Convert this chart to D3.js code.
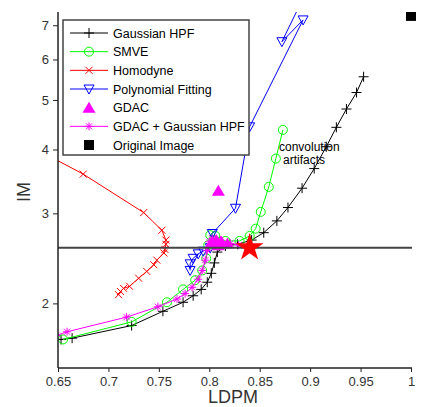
<!DOCTYPE html>
<html>
<head>
  <meta charset="utf-8">
  <style>
    body { margin: 0; background: #fff; }
    text { font-family: "Liberation Sans", Arial, sans-serif; }
  </style>
</head>
<body>
  <svg id="svg"></svg>

  <script src="https://d3js.org/d3.v7.min.js"></script>
  <script>
    // [LDPM, IM] pairs
    const gaussianHPF = [[0.653, 1.70], [0.664, 1.71], [0.723, 1.81], [0.754, 1.93], [0.774, 2.01], [0.784, 2.07],
      [0.792, 2.13], [0.798, 2.20], [0.802, 2.29], [0.805, 2.40], [0.808, 2.52], [0.816, 2.59], [0.828, 2.61],
      [0.842, 2.66], [0.854, 2.75], [0.867, 2.90], [0.878, 3.08], [0.892, 3.36], [0.904, 3.67], [0.916, 4.05],
      [0.926, 4.42], [0.936, 4.80], [0.946, 5.17], [0.953, 5.55]];
    const smve = [[0.655, 1.70], [0.723, 1.84], [0.758, 2.01], [0.774, 2.13], [0.786, 2.22], [0.793, 2.32],
      [0.797, 2.45], [0.799, 2.60], [0.801, 2.72], [0.806, 2.71], [0.816, 2.65], [0.830, 2.65], [0.840, 2.71],
      [0.846, 2.80], [0.851, 3.02], [0.859, 3.38], [0.866, 3.84], [0.873, 4.37]];
    const homodyne = [[0.630, 3.99], [0.675, 3.58], [0.735, 3.01], [0.753, 2.78], [0.757, 2.66], [0.757, 2.61],
      [0.756, 2.55], [0.755, 2.51], [0.748, 2.43], [0.745, 2.38], [0.738, 2.31], [0.730, 2.24], [0.721, 2.16],
      [0.715, 2.14], [0.712, 2.11], [0.710, 2.08]];
    const polyFit = [[0.781, 2.32], [0.781, 2.39], [0.784, 2.45], [0.789, 2.50], [0.794, 2.53], [0.801, 2.57],
      [0.803, 2.74], [0.826, 3.07], [0.840, 4.43], [0.893, 7.17], [0.872, 6.50], [0.897, 8.2]];
    const gdac = [[0.809, 3.32], [0.802, 2.63], [0.807, 2.66], [0.812, 2.64], [0.818, 2.62], [0.809, 2.60]];
    const gdacGaussian = [[0.648, 1.73], [0.659, 1.76], [0.718, 1.88], [0.749, 1.97], [0.768, 2.04], [0.776, 2.09],
      [0.783, 2.15], [0.789, 2.23], [0.793, 2.32], [0.796, 2.43], [0.798, 2.54], [0.800, 2.64], [0.803, 2.68],
      [0.811, 2.66], [0.821, 2.62], [0.829, 2.60]];
    const originalImage = [[1.0, 7.3]];
    const target = [[0.84, 2.57]];
    const refIM = 2.57;

    const xTicks = [0.65, 0.7, 0.75, 0.8, 0.85, 0.9, 0.95, 1];
    const yTicks = [2, 3, 4, 5, 6, 7];

    const width = 424, height = 407;
    const margin = { top: 12, right: 13, bottom: 39, left: 58 };

    const svg = d3.select("#svg").attr("width", width).attr("height", height);

    const x = d3.scaleLinear().domain([0.65, 1]).range([margin.left, width - margin.right]);
    const y = d3.scaleLog().domain([1.495, 7.43]).range([height - margin.bottom, margin.top]);

    svg.append("clipPath").attr("id", "clip")
      .append("rect")
      .attr("x", margin.left).attr("y", margin.top)
      .attr("width", width - margin.left)
      .attr("height", height - margin.bottom - margin.top);

    const plot = svg.append("g").attr("clip-path", "url(#clip)");
    const line = d3.line().x(d => x(d[0])).y(d => y(d[1]));

    const markers = {
      plus: "M-5,0H5M0,-5V5",
      cross: "M-3.5,-3.5L3.5,3.5M-3.5,3.5L3.5,-3.5",
      star: "M-4,0H4M0,-4V4M-3,-3L3,3M-3,3L3,-3",
      tri: "M-5,-4L5,-4L0,5Z",
      triUp: "M-6.5,5L6.5,5L0,-6Z",
      square: "M-5,-5H5V5H-5Z"
    };

    const series = [
      { name: "Gaussian HPF", data: gaussianHPF, color: "#000", marker: "plus", line: true },
      { name: "SMVE", data: smve, color: "#00ff00", marker: "circle", line: true },
      { name: "Homodyne", data: homodyne, color: "#ff0000", marker: "cross", line: true },
      { name: "Polynomial Fitting", data: polyFit, color: "#0000ff", marker: "tri", line: true },
      { name: "GDAC", data: gdac, color: "#ff00ff", marker: "triUp", line: false, fill: true },
      { name: "GDAC + Gaussian HPF", data: gdacGaussian, color: "#ff00ff", marker: "star", line: true },
      { name: "Original Image", data: originalImage, color: "#000", marker: "square", line: false, fill: true }
    ];

    function drawMarker(g, s) {
      if (s.marker === "circle") {
        g.append("circle").attr("r", 4.5)
          .attr("fill", "none").attr("stroke", s.color).attr("stroke-width", 1);
      } else {
        g.append("path").attr("d", markers[s.marker])
          .attr("fill", s.fill ? s.color : "none")
          .attr("stroke", s.color).attr("stroke-width", s.fill ? 0 : 1);
      }
    }

    series.forEach(s => {
      if (s.line) {
        plot.append("path").datum(s.data)
          .attr("d", line)
          .attr("fill", "none")
          .attr("stroke", s.color)
          .attr("stroke-width", 1);
      }
      plot.selectAll(null)
        .data(s.data)
        .join("g")
        .attr("transform", d => `translate(${x(d[0])},${y(d[1])})`)
        .each(function () { drawMarker(d3.select(this), s); });
    });

    // reference line and target star
    svg.append("line")
      .attr("x1", x(0.65)).attr("x2", x(1) + 1)
      .attr("y1", y(refIM)).attr("y2", y(refIM))
      .attr("stroke", "#444").attr("stroke-width", 2);

    svg.selectAll(".target")
      .data(target)
      .join("path")
      .attr("class", "target")
      .attr("transform", d => `translate(${x(d[0])},${y(d[1])})`)
      .attr("d", d3.symbol().type(d3.symbolStar).size(240))
      .attr("fill", "#ff0000");

    svg.append("text").attr("x", 279).attr("y", 150.5)
      .attr("font-size", 12).attr("fill", "#000").text("convolution");
    svg.append("text").attr("x", 283).attr("y", 163.5)
      .attr("font-size", 12).attr("fill", "#000").text("artifacts");

    // axes
    const xAxis = svg.append("g")
      .attr("transform", `translate(0,${height - margin.bottom})`)
      .call(d3.axisBottom(x).tickValues(xTicks).tickSize(4).tickPadding(5).tickFormat(d3.format("")));
    const yAxis = svg.append("g")
      .attr("transform", `translate(${margin.left},0)`)
      .call(d3.axisLeft(y).tickValues(yTicks).tickSize(5).tickPadding(4).tickFormat(d3.format("d")));

    [xAxis, yAxis].forEach(a => {
      a.select(".domain").attr("stroke", "#222").attr("stroke-width", 1.5);
      a.selectAll(".tick line").attr("stroke", "#222");
      a.selectAll(".tick text").attr("font-size", 13).attr("fill", "#333")
        .attr("font-family", "'Liberation Sans', Arial, sans-serif");
    });
    xAxis.select(".domain").attr("d", `M${margin.left},0H${width - margin.right + 1}`);
    yAxis.select(".domain").attr("d", `M0,${margin.top}V${height - margin.bottom}`);

    svg.append("text")
      .attr("x", 233).attr("y", 403)
      .attr("text-anchor", "middle").attr("font-size", 18).attr("fill", "#333")
      .text("LDPM");
    svg.append("text")
      .attr("transform", "translate(30,192) rotate(-90)")
      .attr("text-anchor", "middle").attr("font-size", 18).attr("fill", "#333")
      .text("IM");

    // legend
    const legend = svg.append("g");
    legend.append("rect")
      .attr("x", 63).attr("y", 20).attr("width", 186).attr("height", 135)
      .attr("fill", "#fff").attr("stroke", "#444").attr("stroke-width", 1.5);

    const rowY = d3.scalePoint().domain(series.map(s => s.name)).range([33, 145]);
    series.forEach(s => {
      const row = legend.append("g").attr("transform", `translate(0,${rowY(s.name)})`);
      if (s.line) {
        row.append("line").attr("x1", 70).attr("x2", 108)
          .attr("stroke", s.color).attr("stroke-width", 1);
      }
      drawMarker(row.append("g").attr("transform", "translate(89,0)"), s);
      row.append("text").attr("x", 113).attr("y", 4.5)
        .attr("font-size", 12.5).attr("fill", "#000").text(s.name);
    });
  </script>
</body>
</html>
